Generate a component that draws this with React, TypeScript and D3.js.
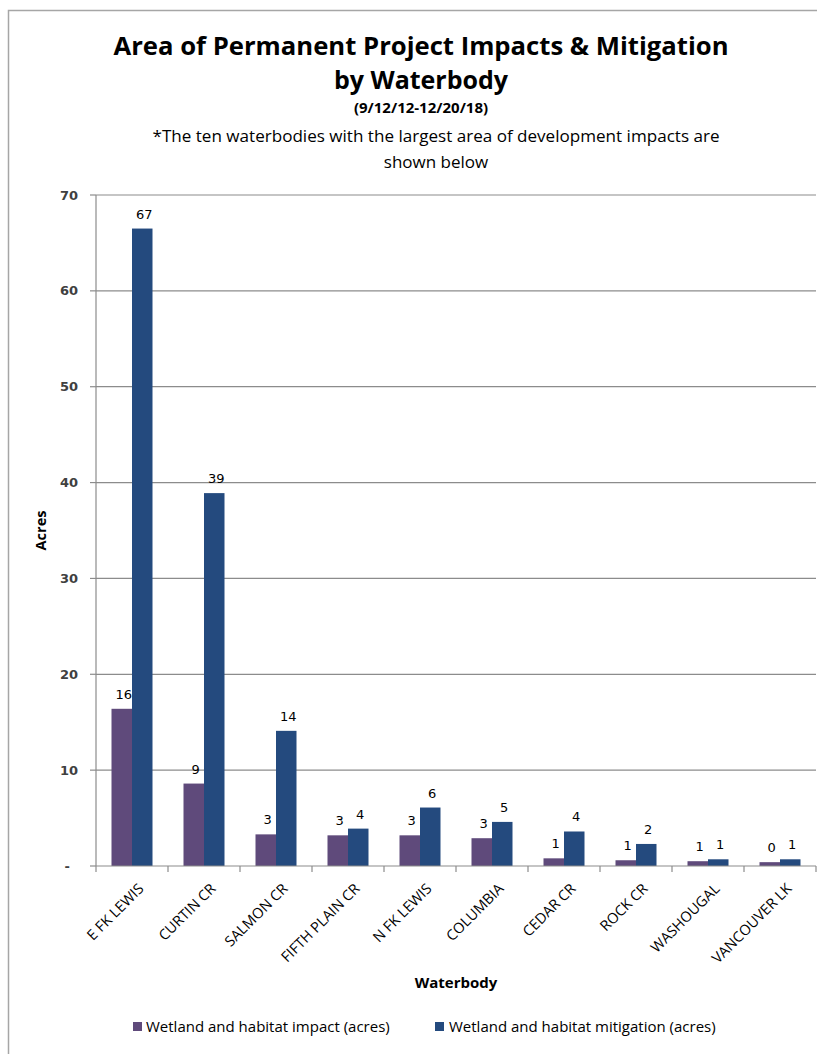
import React from "react";
import * as d3 from "d3";

const categories = [
  "E FK LEWIS",
  "CURTIN CR",
  "SALMON CR",
  "FIFTH PLAIN CR",
  "N FK LEWIS",
  "COLUMBIA",
  "CEDAR CR",
  "ROCK CR",
  "WASHOUGAL",
  "VANCOUVER LK",
];
const impactAcres = [16.4, 8.6, 3.3, 3.2, 3.2, 2.9, 0.8, 0.6, 0.5, 0.4];
const mitigationAcres = [66.5, 38.9, 14.1, 3.9, 6.1, 4.6, 3.6, 2.3, 0.7, 0.7];
const yTicks = [0, 10, 20, 30, 40, 50, 60, 70];
const seriesNames = [
  "Wetland and habitat impact (acres)",
  "Wetland and habitat mitigation (acres)",
];
const seriesColors = ["#5f4a7b", "#244a7e"];

const W = 817;
const H = 1054;
const plotLeft = 96;
const plotRight = 816;
const plotTop = 195;
const plotBottom = 866;

export default function App() {
  const x0 = d3.scaleBand<string>().domain(categories).range([plotLeft, plotRight]).padding(0);
  const groupW = 41;
  const x1 = d3.scaleBand<string>().domain(["impact", "mitigation"]).range([0, groupW]).padding(0);
  const y = d3.scaleLinear().domain([0, 70]).range([plotBottom, plotTop]);
  const bw = x0.bandwidth();
  const off = (bw - groupW) / 2;

  const series = [
    { key: "impact", values: impactAcres, color: seriesColors[0] },
    { key: "mitigation", values: mitigationAcres, color: seriesColors[1] },
  ];

  const titleFont = "'Open Sans', 'Noto Sans', sans-serif";
  const numFont = "'DejaVu Sans', Verdana, sans-serif";

  return (
    <svg
      width={W}
      height={H}
      style={{ position: "absolute", left: 0, top: 0, background: "#fff" }}
    >
      <rect x={0} y={0} width={W} height={H} fill="#fff" />
      {/* chart frame */}
      <rect x={8.5} y={10.5} width={W + 20} height={H + 20} fill="none" stroke="#a6a6a6" strokeWidth={1.5} />

      {/* titles */}
      <g fontFamily={titleFont} textAnchor="middle" fill="#000">
        <text x={421} y={55} fontSize={25} fontWeight={700} textLength={615} lengthAdjust="spacingAndGlyphs">
          Area of Permanent Project Impacts &amp; Mitigation
        </text>
        <text x={421} y={89} fontSize={25} fontWeight={700}>
          by Waterbody
        </text>
        <text x={421} y={113} fontSize={15} fontWeight={700}>
          (9/12/12-12/20/18)
        </text>
        <text x={436} y={142} fontSize={17} textLength={567} lengthAdjust="spacingAndGlyphs">
          *The ten waterbodies with the largest area of development impacts are
        </text>
        <text x={436} y={168} fontSize={17}>
          shown below
        </text>
      </g>

      {/* gridlines */}
      {yTicks.filter((t) => t > 0).map((t) => (
        <line key={t} x1={plotLeft} x2={plotRight} y1={y(t)} y2={y(t)} stroke="#8c8c8c" strokeWidth={1.2} />
      ))}

      {/* y axis */}
      <line x1={plotLeft} x2={plotLeft} y1={plotTop} y2={plotBottom} stroke="#8c8c8c" strokeWidth={1.2} />
      {yTicks.map((t) => (
        <g key={t}>
          <line x1={plotLeft - 6} x2={plotLeft} y1={y(t)} y2={y(t)} stroke="#8c8c8c" strokeWidth={1.2} />
          <text
            x={t === 0 ? 70 : 78}
            y={y(t)}
            dy="0.35em"
            textAnchor="end"
            fontFamily={numFont}
            fontWeight={700}
            fontSize={13}
            fill="#404040"
          >
            {t === 0 ? "-" : t}
          </text>
        </g>
      ))}
      <text
        transform={`translate(46,${(plotTop + plotBottom) / 2}) rotate(-90)`}
        textAnchor="middle"
        fontFamily={titleFont}
        fontWeight={700}
        fontSize={14.5}
        fill="#000"
      >
        Acres
      </text>

      {/* bars */}
      {series.map((s) =>
        categories.map((c, i) => (
          <rect
            key={s.key + c}
            x={(x0(c) as number) + off + (x1(s.key) as number)}
            y={y(s.values[i])}
            width={x1.bandwidth()}
            height={plotBottom - y(s.values[i])}
            fill={s.color}
          />
        ))
      )}

      {/* value labels */}
      {series.map((s) =>
        categories.map((c, i) => (
          <text
            key={"l" + s.key + c}
            x={(x0(c) as number) + off + (x1(s.key) as number) + x1.bandwidth() / 2 + 2}
            y={y(s.values[i]) - 10}
            textAnchor="middle"
            fontFamily={numFont}
            fontSize={13}
            fill="#000"
          >
            {Math.round(s.values[i])}
          </text>
        ))
      )}

      {/* x axis */}
      <line x1={plotLeft} x2={plotRight} y1={plotBottom} y2={plotBottom} stroke="#8c8c8c" strokeWidth={1.2} />
      {categories.map((c) => (
        <line
          key={"t" + c}
          x1={(x0(c) as number) + bw}
          x2={(x0(c) as number) + bw}
          y1={plotBottom}
          y2={plotBottom + 6}
          stroke="#8c8c8c"
          strokeWidth={1.2}
        />
      ))}
      <line x1={plotLeft} x2={plotLeft} y1={plotBottom} y2={plotBottom + 6} stroke="#8c8c8c" strokeWidth={1.2} />
      {categories.map((c) => (
        <text
          key={"x" + c}
          transform={`translate(${(x0(c) as number) + bw / 2 + 9},${plotBottom + 20}) rotate(-45)`}
          textAnchor="end"
          dy="0.35em"
          fontFamily={titleFont}
          fontSize={14.5}
          fill="#000"
        >
          {c}
        </text>
      ))}
      <text x={456} y={988} textAnchor="middle" fontFamily={titleFont} fontWeight={700} fontSize={15} fill="#000">
        Waterbody
      </text>

      {/* legend */}
      <g fontFamily={titleFont} fontSize={15} fill="#000">
        <rect x={133} y={1022} width={9} height={9} fill={seriesColors[0]} />
        <text x={146} y={1032}>{seriesNames[0]}</text>
        <rect x={435} y={1022} width={9} height={9} fill={seriesColors[1]} />
        <text x={449} y={1032}>{seriesNames[1]}</text>
      </g>
    </svg>
  );
}
